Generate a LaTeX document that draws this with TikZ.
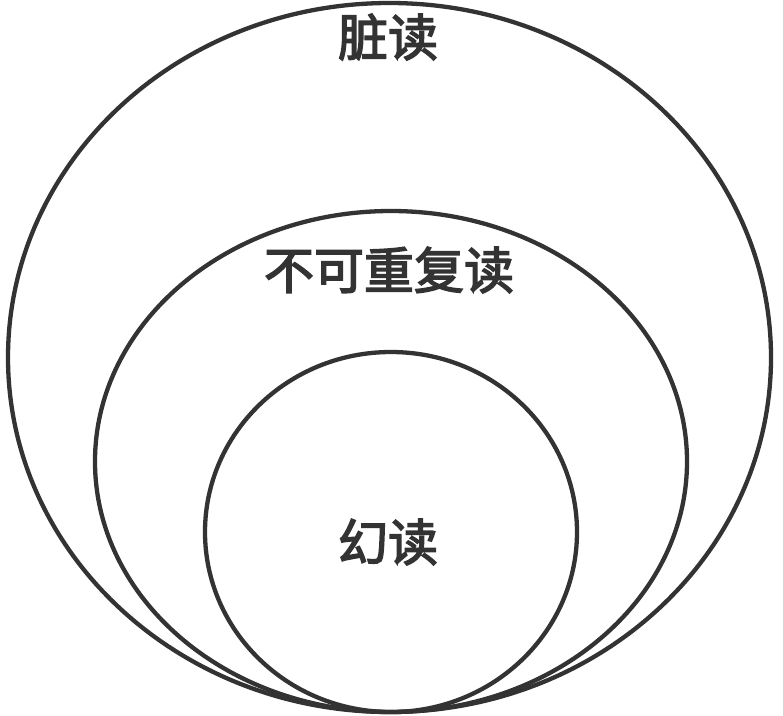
\documentclass[tikz,border=0pt]{standalone}
\usepackage{fontspec}
\newfontfamily\cjk{Noto Sans CJK SC}[FakeBold=3]
\definecolor{ink}{HTML}{333333}
\begin{document}
\begin{tikzpicture}[x=1pt,y=-1pt,
  ring/.style={draw=ink,line width=4.3pt},
  lbl/.style={text=ink,font=\cjk\fontsize{50}{54}\selectfont,inner sep=0pt}]
\useasboundingbox (0,0) rectangle (783,715);
\draw[ring] (389.5,357.5) ellipse [x radius=381.5, y radius=354.5];
\draw[ring] (391,461.5) ellipse [x radius=296, y radius=250.5];
\draw[ring] (391,532) ellipse [x radius=186, y radius=180];
\node[lbl] (a) at (388,37) {脏读};
\node[lbl] (b) at (389,270) {不可重复读};
\node[lbl] (c) at (388,542) {幻读};
\end{tikzpicture}
\end{document}
